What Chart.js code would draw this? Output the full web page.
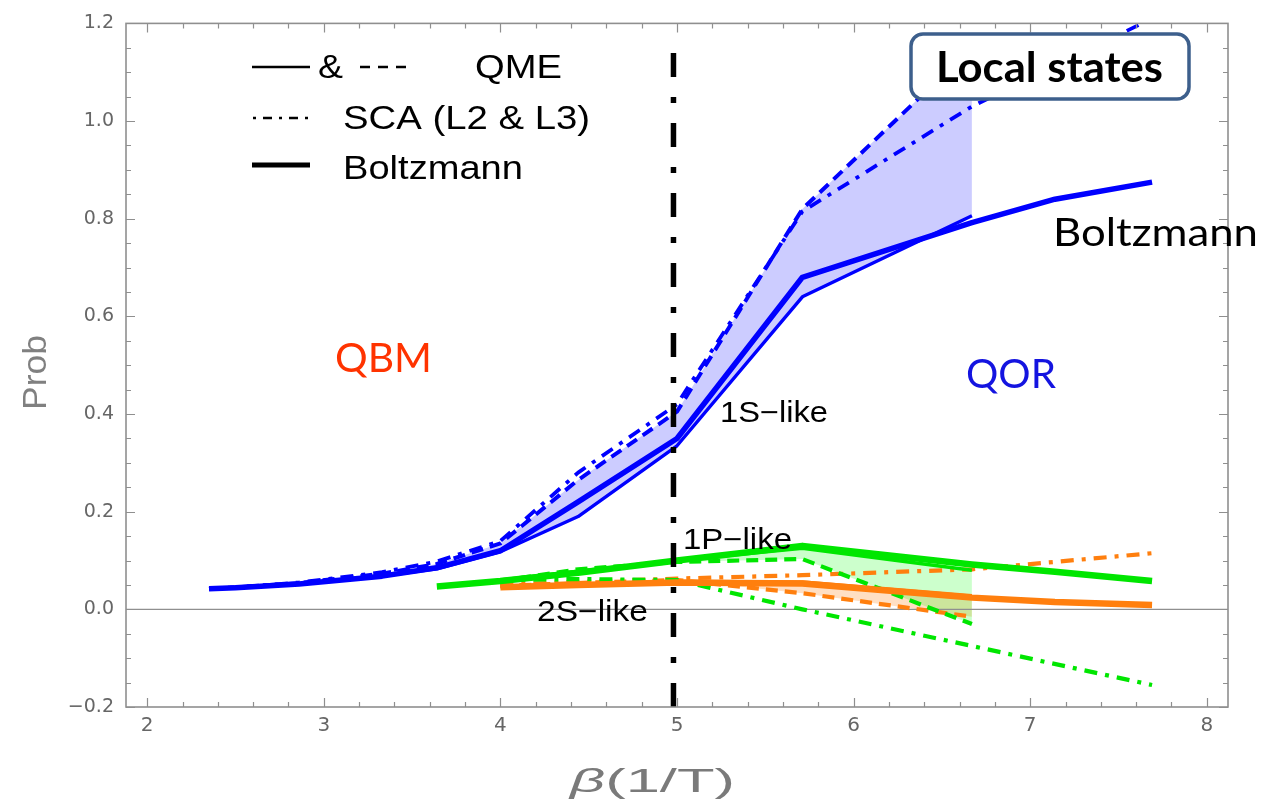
<!DOCTYPE html>
<html>
<head>
<meta charset="utf-8">
<script src="https://cdn.jsdelivr.net/npm/chart.js@4.4.1/dist/chart.umd.min.js"></script>
<style>
  html, body { margin: 0; padding: 0; background: #fff; }
  #wrap { width: 1263px; height: 801px; position: relative; }
</style>
</head>
<body>
<div id="wrap"><canvas id="chart"></canvas></div>
<script>
// ---- inverse temperature grids (beta = 1/T) ----
const beta1S      = [2.35, 2.5, 2.86, 3.33, 3.64, 4.0, 4.44, 5.0, 5.71, 6.67, 7.14, 7.69];
const beta1SQME   = [2.35, 2.5, 2.86, 3.33, 3.64, 4.0, 4.44, 5.0, 5.71, 6.67];
const beta1SSCA   = [2.35, 2.5, 2.86, 3.33, 3.64, 4.0, 4.44, 5.0, 5.71, 6.67, 7.69];
const beta1PBoltz = [3.64, 4.0, 4.44, 5.0, 5.71, 6.67, 7.14, 7.69];
const beta2SBoltz = [4.0, 4.44, 5.0, 5.71, 6.67, 7.14, 7.69];
const betaExcQME  = [4.0, 4.44, 5.0, 5.71, 6.67];
const betaExcSCA  = [4.0, 4.44, 5.0, 5.71, 6.67, 7.69];

// ---- 1S-like probabilities ----
const p1SBoltzmann = [0.042, 0.044, 0.052, 0.068, 0.085, 0.12, 0.22, 0.35, 0.68, 0.792, 0.84, 0.875];
const p1SQMEsolid  = [0.042, 0.044, 0.052, 0.068, 0.083, 0.118, 0.19, 0.335, 0.64, 0.806];
const p1SQMEdashed = [0.042, 0.045, 0.054, 0.073, 0.093, 0.135, 0.265, 0.405, 0.82, 1.15];
const p1SSCA       = [0.042, 0.045, 0.055, 0.076, 0.098, 0.14, 0.28, 0.42, 0.815, 1.03, 1.21];

// ---- 1P-like probabilities ----
const p1PBoltzmann = [0.047, 0.058, 0.075, 0.1, 0.13, 0.092, 0.077, 0.058];
const p1PQMEsolid  = [0.06, 0.078, 0.1, 0.125, 0.08];
const p1PQMEdashed = [0.058, 0.082, 0.097, 0.103, -0.03];
const p1PSCA       = [0.06, 0.062, 0.06, 0.0, -0.075, -0.155];

// ---- 2S-like probabilities ----
const p2SBoltzmann = [0.045, 0.05, 0.055, 0.053, 0.024, 0.015, 0.009];
const p2SQMEsolid  = [0.046, 0.05, 0.057, 0.056, 0.028];
const p2SQMEdashed = [0.048, 0.054, 0.06, 0.033, -0.015];
const p2SSCA       = [0.05, 0.056, 0.063, 0.07, 0.082, 0.115];

// ---- crossover marker between QBM and QOR regimes ----
const betaCross = 4.98;
const crossSpan = [-0.2, 1.176];

// ---- axes ----
const xTickValues = [2, 3, 4, 5, 6, 7, 8];
const yTickValues = [-0.2, 0.0, 0.2, 0.4, 0.6, 0.8, 1.0, 1.2];
const xRange = [1.88, 8.12];
const yRange = [-0.2, 1.2];

const BLUE = '#0000ff';
const GREEN = '#00e600';
const ORANGE = '#ff7f0e';
const DASH = [12, 7];
const DASHDOT = [13, 8, 4, 8];

function pts(xs, ys) { return xs.map((x, i) => ({ x: x, y: ys[i] })); }

function line(label, xs, ys, color, width, dash, fill) {
  return {
    label: label,
    data: pts(xs, ys),
    borderColor: color,
    borderWidth: width,
    borderDash: dash || [],
    borderCapStyle: 'butt',
    borderJoinStyle: 'round',
    pointRadius: 0,
    pointHoverRadius: 0,
    tension: 0,
    fill: fill || false
  };
}

const datasets = [
  // 0: crossover line
  {
    label: 'crossover',
    data: pts([betaCross, betaCross], crossSpan),
    borderColor: '#000',
    borderWidth: 5.5,
    borderDash: [24, 20, 6, 20],
    borderCapStyle: 'butt',
    pointRadius: 0,
    fill: false
  },
  line('1S Boltzmann', beta1S, p1SBoltzmann, BLUE, 5.5),                  // 1
  line('1P Boltzmann', beta1PBoltz, p1PBoltzmann, GREEN, 6.5),            // 2
  line('2S Boltzmann', beta2SBoltz, p2SBoltzmann, ORANGE, 6.5),           // 3
  line('1S QME', beta1SQME, p1SQMEsolid, BLUE, 3.4),                      // 4
  line('1S QME dashed', beta1SQME, p1SQMEdashed, BLUE, 4, DASH,
       { target: 4, above: 'rgba(0,0,255,0.2)', below: 'rgba(0,0,255,0.2)' }), // 5
  line('1S SCA', beta1SSCA, p1SSCA, BLUE, 3.8, DASHDOT),                  // 6
  line('1P QME', betaExcQME, p1PQMEsolid, GREEN, 3.4),                    // 7
  line('1P QME dashed', betaExcQME, p1PQMEdashed, GREEN, 4.2, DASH,
       { target: 7, above: 'rgba(0,255,0,0.2)', below: 'rgba(0,255,0,0.2)' }), // 8
  line('1P SCA', betaExcSCA, p1PSCA, GREEN, 4.2, DASHDOT),                // 9
  line('2S QME', betaExcQME, p2SQMEsolid, ORANGE, 3.4),                   // 10
  line('2S QME dashed', betaExcQME, p2SQMEdashed, ORANGE, 4.2, DASH,
       { target: 10, above: 'rgba(255,127,14,0.25)', below: 'rgba(255,127,14,0.25)' }), // 11
  line('2S SCA', betaExcSCA, p2SSCA, ORANGE, 4.2, DASHDOT)                // 12
];

// text drawn with an optional horizontal stretch to a given width
function drawText(ctx, text, x, y, font, color, width) {
  ctx.save();
  ctx.font = font;
  ctx.fillStyle = color;
  ctx.textAlign = 'left';
  ctx.textBaseline = 'alphabetic';
  const w = ctx.measureText(text).width;
  const sx = width ? width / w : 1;
  ctx.translate(x, y);
  ctx.scale(sx, 1);
  ctx.fillText(text, 0, 0);
  ctx.restore();
}

function strokeSeg(ctx, x1, y1, x2, y2, width, color, dash) {
  ctx.save();
  ctx.strokeStyle = color;
  ctx.lineWidth = width;
  ctx.lineCap = 'butt';
  ctx.setLineDash(dash || []);
  ctx.beginPath();
  ctx.moveTo(x1, y1);
  ctx.lineTo(x2, y2);
  ctx.stroke();
  ctx.restore();
}

const FRAME = '#8f8f8f';

// frame with inward ticks on all four sides, plus the zero line
const framePlugin = {
  id: 'frame',
  beforeDatasetsDraw(chart) {
    const { ctx, chartArea: a, scales } = chart;
    const y0 = scales.y.getPixelForValue(0);
    strokeSeg(ctx, a.left, y0, a.right, y0, 1.3, FRAME);
  },
  afterDatasetsDraw(chart) {
    const { ctx, chartArea: a, scales } = chart;
    ctx.save();
    ctx.strokeStyle = FRAME;
    ctx.lineWidth = 1.6;
    ctx.strokeRect(a.left, a.top, a.right - a.left, a.bottom - a.top);
    ctx.lineWidth = 1.2;
    const major = 9, minor = 5;
    const sx = scales.x, sy = scales.y;
    // x ticks: major every 1, minor every 0.2
    for (let k = Math.ceil(sx.min / 0.2 - 1e-9); k * 0.2 <= sx.max + 1e-9; k++) {
      const v = k * 0.2;
      const isMajor = Math.abs(v - Math.round(v)) < 1e-6;
      const len = isMajor ? major : minor;
      const px = Math.round(sx.getPixelForValue(v)) + 0.5;
      ctx.beginPath();
      ctx.moveTo(px, a.bottom); ctx.lineTo(px, a.bottom - len);
      ctx.moveTo(px, a.top); ctx.lineTo(px, a.top + len);
      ctx.stroke();
    }
    // y ticks: major every 0.2, minor every 0.05
    for (let k = Math.ceil(sy.min / 0.05 - 1e-9); k * 0.05 <= sy.max + 1e-9; k++) {
      const v = k * 0.05;
      const isMajor = Math.abs(v / 0.2 - Math.round(v / 0.2)) < 1e-6;
      const len = isMajor ? major : minor;
      const py = Math.round(sy.getPixelForValue(v)) + 0.5;
      ctx.beginPath();
      ctx.moveTo(a.left, py); ctx.lineTo(a.left + len, py);
      ctx.moveTo(a.right, py); ctx.lineTo(a.right - len, py);
      ctx.stroke();
    }
    ctx.restore();
  }
};

// axis titles, state labels, legend key and the title box
const notesPlugin = {
  id: 'notes',
  afterDatasetsDraw(chart) {
    const ctx = chart.ctx;
    const SANS = '"Liberation Sans", Arial, sans-serif';
    const CAL = 'Lato, "Open Sans", sans-serif';

    // axis titles
    ctx.save();
    ctx.translate(46, 410);
    ctx.rotate(-Math.PI / 2);
    drawText(ctx, 'Prob', 0, 0, '34px ' + SANS, '#808080', 75);
    ctx.restore();

    ctx.save();
    ctx.font = 'italic 33px ' + SANS;
    const wb = ctx.measureText('β').width;
    ctx.font = '33px ' + SANS;
    const wr = ctx.measureText('(1/T)').width;
    ctx.restore();
    const k = 165 / (wb + wr);
    drawText(ctx, 'β', 570, 792, 'italic 33px ' + SANS, '#7a7a7a', wb * k);
    drawText(ctx, '(1/T)', 570 + wb * k, 792, '33px ' + SANS, '#7a7a7a', wr * k);

    // regime labels
    drawText(ctx, 'QBM', 335, 372, '40px ' + CAL, '#ff3300', 97);
    drawText(ctx, 'QOR', 966, 388, '40px ' + CAL, '#1414e0', 90);
    drawText(ctx, 'Boltzmann', 1053, 246, '39px ' + CAL, '#000', 205);

    // state labels
    drawText(ctx, '1S\u2212like', 720, 422, '29px ' + SANS, '#000', 108);
    drawText(ctx, '1P\u2212like', 683, 549, '29px ' + SANS, '#000', 109);
    drawText(ctx, '2S\u2212like', 537, 621, '29px ' + SANS, '#000', 111);

    // legend key
    strokeSeg(ctx, 252, 67, 310, 67, 2.4, '#000');
    drawText(ctx, '&', 318, 78, '33px ' + SANS, '#000', 25);
    strokeSeg(ctx, 360, 67, 412, 67, 2.6, '#000', [10, 8]);
    drawText(ctx, 'QME', 475, 78, '33px ' + SANS, '#000', 87);

    strokeSeg(ctx, 253, 118, 310, 118, 2.6, '#000', [3, 7, 9, 7]);
    drawText(ctx, 'SCA (L2 & L3)', 343, 129, '33px ' + SANS, '#000', 247);

    strokeSeg(ctx, 252, 165, 310, 165, 5, '#000');
    drawText(ctx, 'Boltzmann', 343, 179, '33px ' + SANS, '#000', 180);

    // title box
    ctx.save();
    ctx.beginPath();
    ctx.roundRect(911, 34, 278, 65, 12);
    ctx.fillStyle = '#fff';
    ctx.fill();
    ctx.lineWidth = 3.5;
    ctx.strokeStyle = '#3d5f8c';
    ctx.stroke();
    ctx.restore();
    drawText(ctx, 'Local states', 936, 82, 'bold 42px ' + CAL, '#000', 227);
  }
};

const fmt = v => (Math.round(v * 10) / 10).toFixed(1).replace('-', '\u2212');

new Chart(document.getElementById('chart'), {
  type: 'line',
  data: { datasets: datasets },
  options: {
    responsive: true,
    maintainAspectRatio: false,
    animation: false,
    events: [],
    layout: { padding: { top: 18, right: 35, left: 0, bottom: 0 } },
    plugins: {
      legend: { display: false },
      tooltip: { enabled: false },
      filler: { drawTime: 'beforeDatasetsDraw' }
    },
    scales: {
      x: {
        type: 'linear',
        min: xRange[0],
        max: xRange[1],
        grid: { display: false, drawTicks: false },
        border: { display: false },
        afterBuildTicks: s => { s.ticks = xTickValues.map(v => ({ value: v })); },
        afterFit: s => { s.height = 94; },
        ticks: {
          padding: 7,
          color: '#666',
          font: { family: '"DejaVu Sans"', size: 20 },
          callback: v => String(v)
        }
      },
      y: {
        type: 'linear',
        min: yRange[0],
        max: yRange[1],
        grid: { display: false, drawTicks: false },
        border: { display: false },
        afterBuildTicks: s => { s.ticks = yTickValues.map(v => ({ value: v })); },
        afterFit: s => { s.width = 126; },
        ticks: {
          padding: 12,
          color: '#666',
          font: { family: '"DejaVu Sans"', size: 19 },
          callback: v => fmt(v)
        }
      }
    }
  },
  plugins: [framePlugin, notesPlugin]
});
</script>
</body>
</html>
